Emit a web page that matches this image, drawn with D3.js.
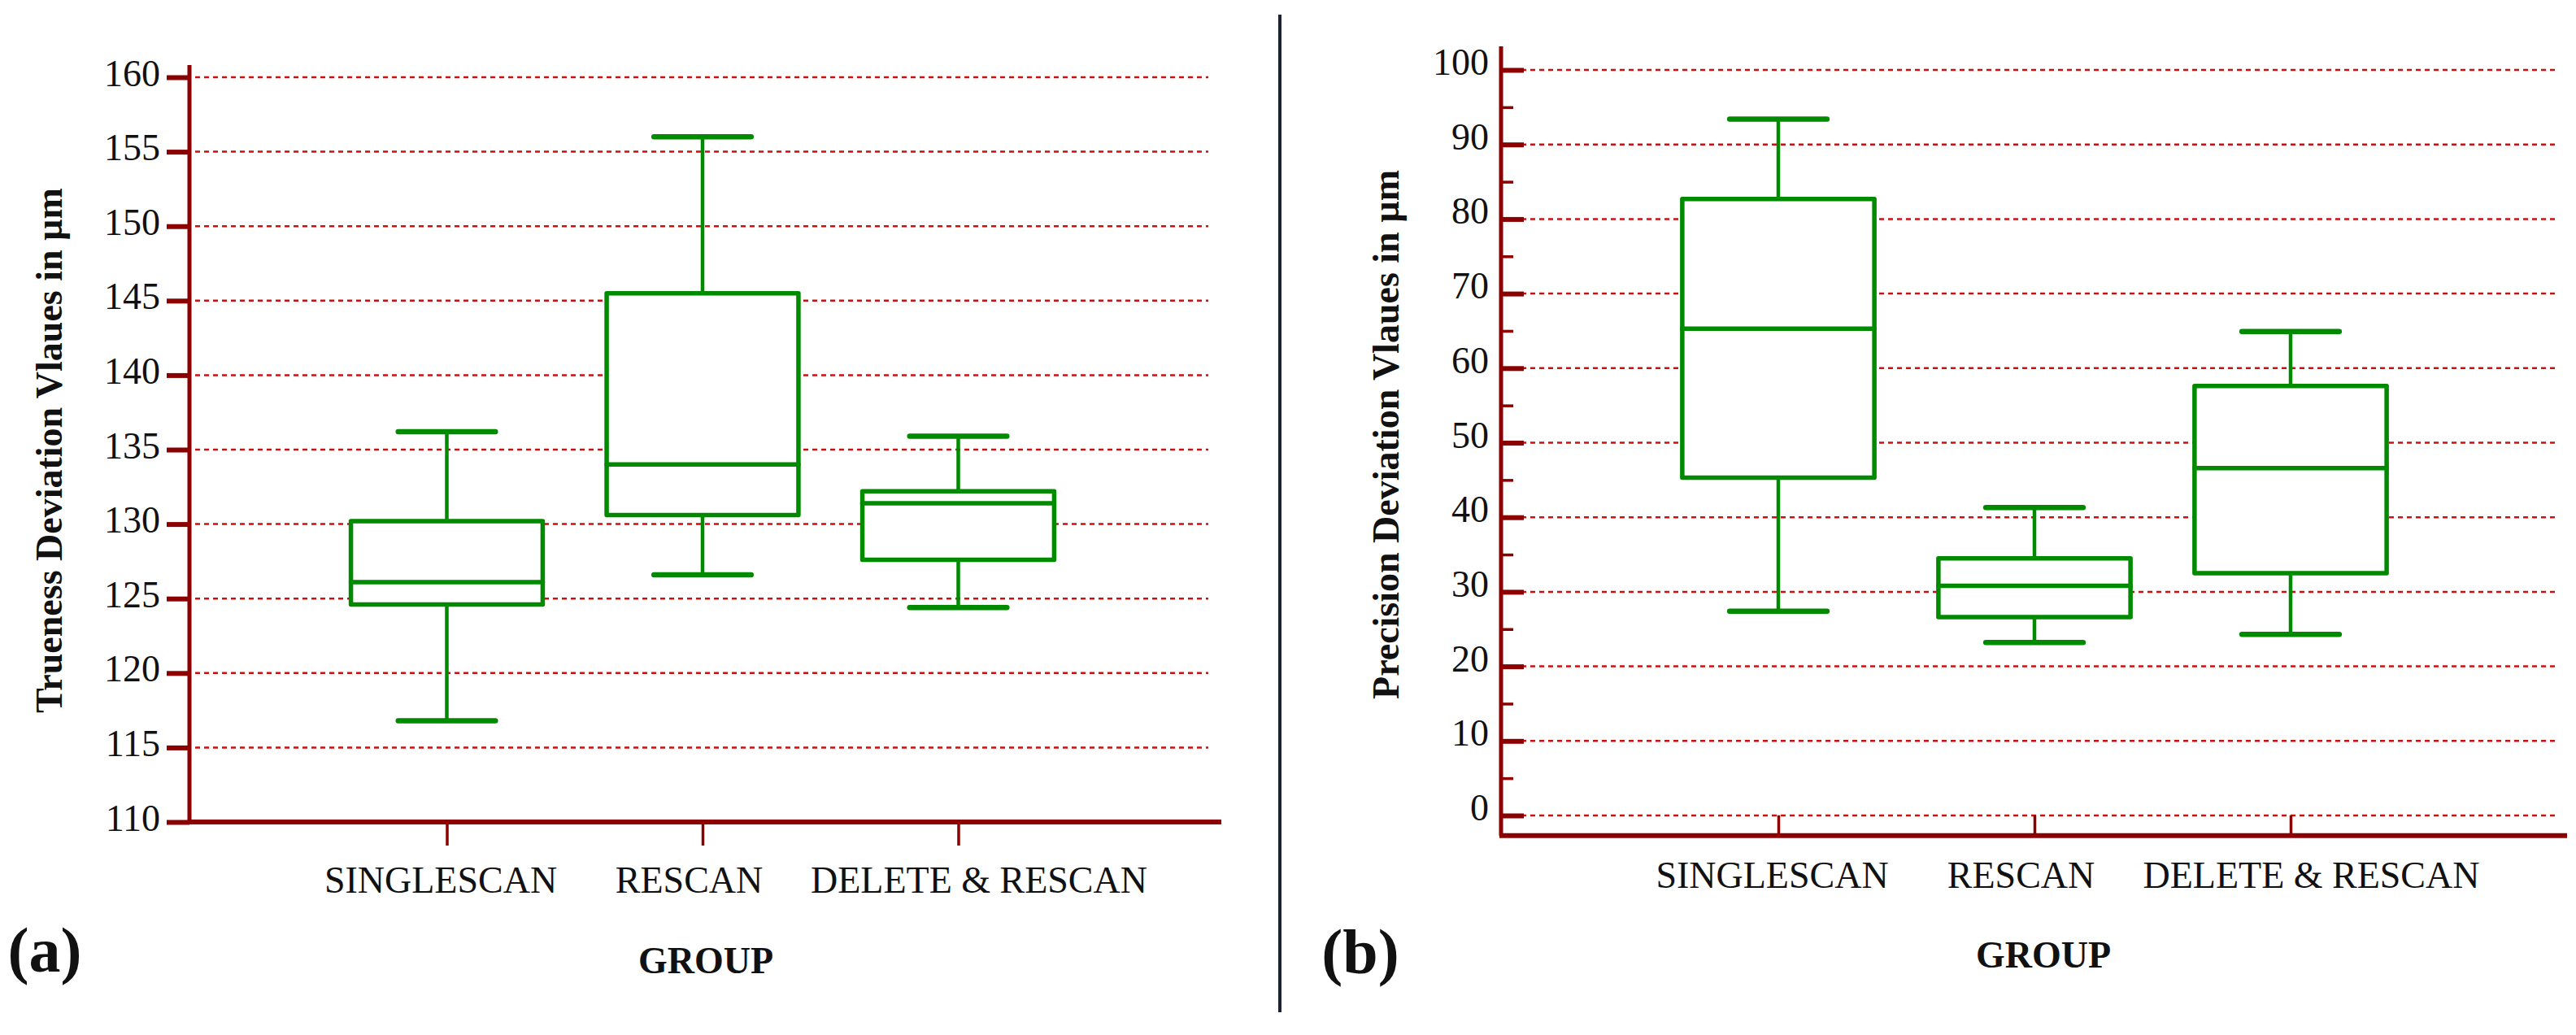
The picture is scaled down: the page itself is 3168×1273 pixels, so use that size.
<!DOCTYPE html>
<html>
  <head>
    <meta charset="utf-8">
    <style>
      body { margin: 0; background: #fff; }
      text { font-family: "Liberation Serif", "Times New Roman", serif; }
    </style>
  </head>
  <body>
    <script src="https://d3js.org/d3.v7.min.js"></script>
    <script>
// groupes et valeurs
const GROUPS = ["SINGLESCAN", "RESCAN", "DELETE & RESCAN"];

// (a) trueness
const truenessMin = [116.8, 126.6, 124.4];
const truenessQ1 = [124.6, 130.6, 127.6];
const truenessMedian = [126.1, 134.0, 131.4];
const truenessQ3 = [130.2, 145.5, 132.2];
const truenessMax = [136.2, 156.0, 135.9];
const truenessTicks = [110, 115, 120, 125, 130, 135, 140, 145, 150, 155, 160];

// (b) precision
const precisionMin = [27.4, 23.2, 24.3];
const precisionQ1 = [45.3, 26.6, 32.5];
const precisionMedian = [65.3, 30.8, 46.6];
const precisionQ3 = [82.7, 34.5, 57.6];
const precisionMax = [93.4, 41.3, 64.9];
const precisionTicks = [0, 10, 20, 30, 40, 50, 60, 70, 80, 90, 100];
const precisionMinorTicks = [5, 15, 25, 35, 45, 55, 65, 75, 85, 95];

const WIDTH = 3168
const HEIGHT = 1273
const AXIS_RED = '#8b0000'
const GRID_RED = '#cc1010'
const GREEN = '#008a00'
const INK = '#111'
// petit decalage des libelles de groupe, comme sur la figure
const LABEL_NUDGE = [-8, -17, 25]

const svg = d3.select('body').append('svg')
  .attr('width', WIDTH).attr('height', HEIGHT);

function boxes(g, x, y, mins, q1s, meds, q3s, maxs) {
  const step = x.step();
  const boxW = step * 0.75;
  const capW = step * 0.38;
  const rows = GROUPS.map((name, i) => ({
    name, min: mins[i], q1: q1s[i], med: meds[i], q3: q3s[i], max: maxs[i]
  }));
  const b = g.selectAll('g.box').data(rows).enter().append('g')
    .attr('class', 'box')
    .attr('stroke', GREEN)
    .attr('fill', 'none')
    .attr('stroke-linecap', 'round');

  // moustaches
  b.append('line')
    .attr('x1', d => x(d.name)).attr('x2', d => x(d.name))
    .attr('y1', d => y(d.max)).attr('y2', d => y(d.q3))
    .attr('stroke-width', 4.5);
  b.append('line')
    .attr('x1', d => x(d.name)).attr('x2', d => x(d.name))
    .attr('y1', d => y(d.q1)).attr('y2', d => y(d.min))
    .attr('stroke-width', 4.5);
  b.selectAll('line.cap').data(d => [d.max, d.min].map(v => ({ name: d.name, v })))
    .enter().append('line')
    .attr('class', 'cap')
    .attr('x1', d => x(d.name) - capW / 2).attr('x2', d => x(d.name) + capW / 2)
    .attr('y1', d => y(d.v)).attr('y2', d => y(d.v))
    .attr('stroke-width', 6.5);

  // boite
  b.append('rect')
    .attr('x', d => x(d.name) - boxW / 2)
    .attr('width', boxW)
    .attr('y', d => y(d.q3))
    .attr('height', d => y(d.q1) - y(d.q3))
    .attr('fill', '#fff')
    .attr('stroke-width', 5.5)
    .attr('stroke-linejoin', 'round');
  b.append('line')
    .attr('x1', d => x(d.name) - boxW / 2).attr('x2', d => x(d.name) + boxW / 2)
    .attr('y1', d => y(d.med)).attr('y2', d => y(d.med))
    .attr('stroke-width', 5.5);
}

function grid(g, y, ticks, x0, x1) {
  g.selectAll('line.grid').data(ticks).enter().append('line')
    .attr('class', 'grid')
    .attr('x1', x0).attr('x2', x1)
    .attr('y1', d => y(d)).attr('y2', d => y(d))
    .attr('stroke', GRID_RED)
    .attr('stroke-width', 2.5)
    .attr('stroke-dasharray', '6,5');
}

function styleAxis(sel, tickWidth) {
  sel.select('.domain').remove();
  sel.selectAll('.tick line').attr('stroke', AXIS_RED).attr('stroke-width', tickWidth);
}

function groupLabels(sel, yPos) {
  sel.selectAll('.tick text')
    .attr('font-size', 46).attr('fill', INK)
    .attr('font-family', '"Liberation Serif", serif')
    .attr('y', yPos).attr('dy', 0)
    .attr('dx', (d, i) => LABEL_NUDGE[i]);
}

// ---------- (a) ----------
const yA = d3.scaleLinear().domain([110, 160]).range([1011, 95]);
const xA = d3.scalePoint().domain(GROUPS).range([235, 1493]).padding(1);
const gA = svg.append('g');

grid(gA, yA, truenessTicks.slice(1), 240, 1486);
boxes(gA, xA, yA, truenessMin, truenessQ1, truenessMedian, truenessQ3, truenessMax);

const axA = gA.append('g').attr('transform', 'translate(233,0)')
  .call(d3.axisLeft(yA).tickValues(truenessTicks).tickSize(28).tickPadding(8));
styleAxis(axA, 6);
axA.selectAll('.tick text').attr('font-size', 46).attr('fill', INK).attr('dy', '0.22em')
  .attr('font-family', '"Liberation Serif", serif');

gA.append('line')
  .attr('x1', 233).attr('x2', 233)
  .attr('y1', yA(160) - 15).attr('y2', yA(110))
  .attr('stroke', AXIS_RED).attr('stroke-width', 5);

const bxA = gA.append('g').attr('transform', `translate(0,${yA(110)})`)
  .call(d3.axisBottom(xA).tickSize(29).tickPadding(0));
styleAxis(bxA, 3.5);
groupLabels(bxA, 87);
gA.append('line')
  .attr('x1', 231).attr('x2', 1502)
  .attr('y1', yA(110)).attr('y2', yA(110))
  .attr('stroke', AXIS_RED).attr('stroke-width', 6);

gA.append('text')
  .attr('transform', `translate(76,${(yA(160) + yA(110)) / 2 + 1}) rotate(-90)`)
  .attr('text-anchor', 'middle')
  .attr('font-weight', 'bold')
  .attr('font-size', 46)
  .attr('fill', INK)
  .text('Trueness Deviation Vlaues in µm');

gA.append('text')
  .attr('x', 868).attr('y', 1197)
  .attr('text-anchor', 'middle')
  .attr('font-weight', 'bold').attr('font-size', 46).attr('fill', INK)
  .text('GROUP');

gA.append('text')
  .attr('x', 55).attr('y', 1195)
  .attr('text-anchor', 'middle')
  .attr('font-weight', 'bold').attr('font-size', 78).attr('fill', INK)
  .text('(a)');

// separateur
svg.append('line')
  .attr('x1', 1574).attr('x2', 1574)
  .attr('y1', 18).attr('y2', 1245)
  .attr('stroke', '#1c2233').attr('stroke-width', 4);

// ---------- (b) ----------
const yB = d3.scaleLinear().domain([0, 100]).range([1003, 86]);
const xB = d3.scalePoint().domain(GROUPS).range([1872, 3132]).padding(1);
const gB = svg.append('g');

grid(gB, yB, precisionTicks, 1849, 3145);
boxes(gB, xB, yB, precisionMin, precisionQ1, precisionMedian, precisionQ3, precisionMax);

const minorB = gB.append('g').attr('transform', 'translate(1846,0)')
  .call(d3.axisRight(yB).tickValues(precisionMinorTicks).tickSize(15).tickFormat(''));
styleAxis(minorB, 3.5);

const axB = gB.append('g').attr('transform', 'translate(1846,0)')
  .call(d3.axisLeft(yB).tickValues(precisionTicks).tickSizeInner(-28).tickSizeOuter(0).tickPadding(15));
styleAxis(axB, 6);
axB.selectAll('.tick text').attr('font-size', 46).attr('fill', INK).attr('dy', '0.12em')
  .attr('font-family', '"Liberation Serif", serif');

const yAxisB = yB(-2.7);
gB.append('line')
  .attr('x1', 1846).attr('x2', 1846)
  .attr('y1', yB(100) - 29).attr('y2', yAxisB)
  .attr('stroke', AXIS_RED).attr('stroke-width', 5);

const bxB = gB.append('g').attr('transform', `translate(0,${yAxisB})`)
  .call(d3.axisBottom(xB).tickSize(-25).tickPadding(0));
styleAxis(bxB, 3.5);
groupLabels(bxB, 64);
gB.append('line')
  .attr('x1', 1844).attr('x2', 3157)
  .attr('y1', yAxisB).attr('y2', yAxisB)
  .attr('stroke', AXIS_RED).attr('stroke-width', 6);

gB.append('text')
  .attr('transform', `translate(1720,${(yB(100) + yB(0)) / 2 - 10}) rotate(-90)`)
  .attr('text-anchor', 'middle')
  .attr('font-weight', 'bold')
  .attr('font-size', 46)
  .attr('fill', INK)
  .text('Precision Deviation Vlaues in µm');

gB.append('text')
  .attr('x', 2513).attr('y', 1190)
  .attr('text-anchor', 'middle')
  .attr('font-weight', 'bold').attr('font-size', 46).attr('fill', INK)
  .text('GROUP');

gB.append('text')
  .attr('x', 1673).attr('y', 1197)
  .attr('text-anchor', 'middle')
  .attr('font-weight', 'bold').attr('font-size', 78).attr('fill', INK)
  .text('(b)');
    </script>
  </body>
</html>
